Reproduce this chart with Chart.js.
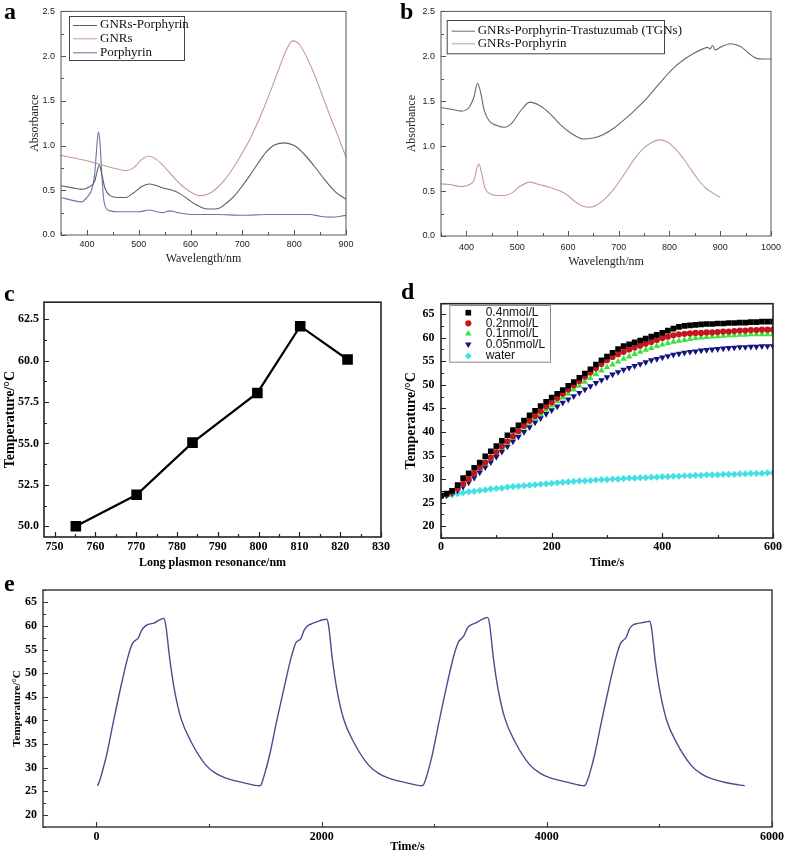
<!DOCTYPE html>
<html>
<head>
<meta charset="utf-8">
<script src="https://cdn.jsdelivr.net/npm/chart.js"></script>
<style>
  body { margin: 0; background: #fff; }
  #fig { position: relative; width: 787px; height: 854px; overflow: hidden; background: #fff; }
  #fig canvas { position: absolute; }
  .tag { position: absolute; font: bold 24px "Liberation Serif", "Times New Roman", serif; line-height: 1; color: #000; }
</style>
</head>
<body>
<div id="fig">
  <canvas id="chartA" width="395" height="290" style="left:0;top:0"></canvas>
  <canvas id="chartB" width="392" height="290" style="left:395px;top:0"></canvas>
  <canvas id="chartC" width="395" height="285" style="left:0;top:290px"></canvas>
  <canvas id="chartD" width="392" height="285" style="left:395px;top:290px"></canvas>
  <canvas id="chartE" width="787" height="279" style="left:0;top:575px"></canvas>
  <div class="tag" style="left:4px;top:-1px">a</div>
  <div class="tag" style="left:400px;top:-1px">b</div>
  <div class="tag" style="left:4px;top:281px">c</div>
  <div class="tag" style="left:401px;top:279px">d</div>
  <div class="tag" style="left:4px;top:571px">e</div>
</div>
<script>
// ---- panel a: UV-vis spectra ----
const aGnrsNm = [350, 375, 400, 425, 450, 475, 490, 505, 520, 535, 550, 565, 580, 595, 610, 620, 635, 650, 665, 680, 695, 710, 725, 740, 755, 770, 785, 797, 810, 825, 840, 855, 870, 885, 900];
const aGnrsAbs = [0.89, 0.86, 0.83, 0.79, 0.75, 0.72, 0.75, 0.84, 0.88, 0.84, 0.76, 0.66, 0.57, 0.50, 0.45, 0.44, 0.46, 0.52, 0.61, 0.73, 0.87, 1.02, 1.20, 1.40, 1.62, 1.85, 2.07, 2.17, 2.13, 1.98, 1.78, 1.55, 1.32, 1.10, 0.87];
const aGnrsPorNm = [350, 370, 390, 405, 415, 420, 424, 428, 435, 445, 460, 475, 490, 505, 520, 535, 550, 565, 580, 595, 610, 625, 640, 655, 670, 685, 700, 715, 730, 745, 760, 780, 800, 820, 840, 860, 880, 900];
const aGnrsPorAbs = [0.55, 0.53, 0.51, 0.54, 0.60, 0.72, 0.78, 0.70, 0.52, 0.44, 0.42, 0.42, 0.47, 0.54, 0.57, 0.55, 0.52, 0.50, 0.46, 0.40, 0.34, 0.30, 0.29, 0.30, 0.36, 0.44, 0.55, 0.67, 0.80, 0.92, 1.00, 1.03, 1.00, 0.90, 0.76, 0.61, 0.48, 0.40];
const aPorNm = [350, 370, 390, 400, 410, 415, 419, 422, 425, 428, 432, 437, 445, 460, 480, 500, 520, 535, 545, 560, 575, 600, 650, 700, 750, 800, 830, 850, 870, 890, 900];
const aPorAbs = [0.42, 0.39, 0.37, 0.42, 0.52, 0.68, 0.98, 1.15, 1.05, 0.75, 0.42, 0.30, 0.27, 0.26, 0.26, 0.26, 0.28, 0.26, 0.25, 0.27, 0.25, 0.23, 0.23, 0.22, 0.23, 0.23, 0.23, 0.21, 0.20, 0.21, 0.22];
const aXTicks = [400, 500, 600, 700, 800, 900];
const aYTicks = [0, 0.5, 1.0, 1.5, 2.0, 2.5];

// ---- panel b ----
const bTgnNm = [350, 370, 390, 405, 415, 422, 428, 435, 445, 460, 475, 490, 505, 525, 545, 565, 585, 605, 630, 650, 670, 690, 710, 730, 750, 770, 790, 810, 830, 850, 865, 875, 880, 885, 890, 900, 920, 940, 955, 970, 985, 1000];
const bTgnAbs = [1.43, 1.41, 1.39, 1.43, 1.55, 1.70, 1.60, 1.40, 1.28, 1.23, 1.21, 1.26, 1.38, 1.49, 1.45, 1.36, 1.24, 1.15, 1.08, 1.09, 1.13, 1.20, 1.29, 1.39, 1.50, 1.63, 1.76, 1.88, 1.97, 2.04, 2.08, 2.10, 2.08, 2.12, 2.07, 2.10, 2.14, 2.11, 2.04, 1.98, 1.97, 1.97];
const bGnrsPorNm = [350, 370, 390, 405, 415, 421, 425, 430, 437, 447, 460, 475, 490, 505, 525, 545, 565, 585, 600, 615, 630, 642, 655, 670, 690, 710, 730, 750, 765, 780, 795, 810, 825, 840, 855, 870, 885, 900];
const bGnrsPorAbs = [0.58, 0.57, 0.55, 0.57, 0.62, 0.76, 0.80, 0.70, 0.53, 0.47, 0.45, 0.45, 0.48, 0.55, 0.60, 0.57, 0.54, 0.50, 0.45, 0.38, 0.33, 0.32, 0.34, 0.40, 0.52, 0.68, 0.85, 0.98, 1.04, 1.07, 1.05, 0.98, 0.88, 0.76, 0.64, 0.54, 0.48, 0.43];
const bXTicks = [400, 500, 600, 700, 800, 900, 1000];
const bYTicks = [0, 0.5, 1.0, 1.5, 2.0, 2.5];

// ---- panel c ----
const cResonance = [755.2, 770.1, 783.8, 799.7, 810.2, 821.8];
const cTemp = [50.0, 51.9, 55.05, 58.05, 62.08, 60.07];
const cXTicks = [750, 760, 770, 780, 790, 800, 810, 820, 830];
const cYTicks = [50.0, 52.5, 55.0, 57.5, 60.0, 62.5];

// ---- panel d: heating curves ----
const dTime = [0, 10, 20, 30, 40, 50, 60, 70, 80, 90, 100, 110, 120, 130, 140, 150, 160, 170, 180, 190, 200, 210, 220, 230, 240, 250, 260, 270, 280, 290, 300, 310, 320, 330, 340, 350, 360, 370, 380, 390, 400, 410, 420, 430, 440, 450, 460, 470, 480, 490, 500, 510, 520, 530, 540, 550, 560, 570, 580, 590, 600];
const d04 = [26.5, 26.9, 27.5, 28.7, 30.2, 31.2, 32.4, 33.5, 34.8, 35.9, 37.0, 38.1, 39.3, 40.4, 41.4, 42.4, 43.5, 44.5, 45.5, 46.4, 47.3, 48.1, 48.9, 49.8, 50.6, 51.5, 52.4, 53.3, 54.3, 55.2, 56.0, 56.8, 57.6, 58.2, 58.6, 59.0, 59.4, 59.8, 60.2, 60.6, 61.0, 61.5, 61.9, 62.3, 62.5, 62.6, 62.7, 62.8, 62.9, 62.9, 63.0, 63.0, 63.1, 63.1, 63.2, 63.2, 63.3, 63.3, 63.4, 63.4, 63.4];
const d02 = [26.4, 26.8, 27.3, 28.0, 29.0, 30.0, 31.2, 32.4, 33.5, 34.6, 35.7, 36.9, 38.0, 39.1, 40.2, 41.3, 42.4, 43.4, 44.4, 45.4, 46.3, 47.2, 48.1, 49.0, 49.9, 50.8, 51.7, 52.6, 53.5, 54.4, 55.2, 55.9, 56.5, 57.0, 57.5, 57.9, 58.3, 58.7, 59.1, 59.5, 59.9, 60.2, 60.5, 60.7, 60.8, 60.9, 61.0, 61.0, 61.1, 61.1, 61.2, 61.3, 61.3, 61.4, 61.5, 61.5, 61.6, 61.6, 61.7, 61.7, 61.7];
const d01 = [26.4, 26.7, 27.1, 27.8, 28.8, 29.9, 31.0, 32.2, 33.3, 34.4, 35.5, 36.6, 37.7, 38.8, 39.9, 40.9, 41.9, 42.9, 43.8, 44.7, 45.6, 46.5, 47.3, 48.1, 49.0, 49.8, 50.6, 51.4, 52.2, 53.0, 53.7, 54.3, 54.9, 55.5, 56.0, 56.5, 57.0, 57.4, 57.8, 58.2, 58.5, 58.8, 59.1, 59.3, 59.5, 59.7, 59.9, 60.0, 60.1, 60.2, 60.3, 60.4, 60.5, 60.5, 60.6, 60.6, 60.7, 60.7, 60.7, 60.7, 60.7];
const d005 = [26.3, 26.6, 27.0, 27.6, 28.4, 29.3, 30.3, 31.4, 32.5, 33.6, 34.7, 35.8, 36.9, 38.0, 39.0, 40.0, 41.0, 42.0, 42.9, 43.8, 44.6, 45.4, 46.2, 46.9, 47.6, 48.3, 49.0, 49.7, 50.4, 51.0, 51.6, 52.2, 52.7, 53.2, 53.6, 54.0, 54.4, 54.8, 55.2, 55.5, 55.8, 56.1, 56.4, 56.6, 56.8, 57.0, 57.1, 57.3, 57.4, 57.5, 57.6, 57.7, 57.8, 57.9, 58.0, 58.0, 58.1, 58.1, 58.2, 58.2, 58.2];
const dWater = [26.3, 26.5, 26.7, 26.9, 27.1, 27.3, 27.4, 27.6, 27.7, 27.9, 28.0, 28.1, 28.3, 28.4, 28.5, 28.6, 28.7, 28.8, 28.9, 29.0, 29.1, 29.2, 29.3, 29.4, 29.5, 29.6, 29.6, 29.7, 29.8, 29.9, 29.9, 30.0, 30.0, 30.1, 30.2, 30.2, 30.3, 30.3, 30.4, 30.4, 30.5, 30.5, 30.6, 30.6, 30.7, 30.7, 30.8, 30.8, 30.9, 30.9, 30.9, 31.0, 31.0, 31.0, 31.1, 31.1, 31.2, 31.2, 31.2, 31.3, 31.3];
const dLabels = ['0.4nmol/L', '0.2nmol/L', '0.1nmol/L', '0.05nmol/L', 'water'];
const dXTicks = [0, 200, 400, 600];
const dYTicks = [20, 25, 30, 35, 40, 45, 50, 55, 60, 65];

// ---- panel e: four on/off cycles ----
const eTime = [
  10, 30, 45, 90, 150, 220, 280, 320, 350, 370, 400, 430, 470, 510, 560, 598, 615, 650, 690, 750, 840, 970, 1060, 1150, 1330, 1445,
  1460, 1480, 1495, 1540, 1600, 1670, 1730, 1770, 1795, 1815, 1845, 1875, 1915, 1960, 2010, 2045, 2062, 2095, 2135, 2195, 2285, 2415, 2505, 2595, 2775, 2890,
  2905, 2925, 2940, 2985, 3045, 3115, 3175, 3215, 3245, 3265, 3295, 3325, 3365, 3410, 3455, 3475, 3492, 3525, 3565, 3625, 3715, 3845, 3935, 4025, 4205, 4330,
  4345, 4365, 4380, 4425, 4485, 4555, 4615, 4655, 4685, 4705, 4735, 4765, 4805, 4850, 4895, 4912, 4930, 4962, 5002, 5062, 5152, 5282, 5372, 5462, 5642, 5757
];
const eTemp = [
  26.2, 27.4, 28.6, 32.7, 39.7, 47.5, 53.5, 56.3, 57.0, 57.4, 59.0, 59.9, 60.4, 60.6, 61.3, 61.6, 60.2, 53.2, 46.8, 40.5, 35.5, 30.6, 28.8, 27.8, 26.7, 26.2,
  26.3, 27.6, 28.8, 32.9, 39.8, 47.3, 53.4, 56.4, 56.9, 57.3, 59.1, 60.0, 60.5, 60.9, 61.3, 61.4, 60.0, 53.0, 46.6, 40.3, 35.4, 30.6, 28.8, 27.8, 26.7, 26.2,
  26.4, 27.6, 28.8, 33.0, 40.0, 47.8, 53.8, 56.6, 57.4, 58.0, 59.6, 60.2, 60.6, 61.2, 61.7, 61.8, 60.3, 53.3, 46.9, 40.6, 35.6, 30.7, 28.9, 27.9, 26.8, 26.2,
  26.4, 27.6, 28.7, 32.8, 39.7, 47.4, 53.4, 56.3, 57.1, 57.6, 59.4, 60.2, 60.5, 60.7, 60.9, 61.0, 59.6, 52.8, 46.5, 40.2, 35.3, 30.5, 28.7, 27.7, 26.6, 26.2
];
const eXTicks = [0, 2000, 4000, 6000];
const eYTicks = [20, 25, 30, 35, 40, 45, 50, 55, 60, 65];

Chart.defaults.animation = false;
Chart.defaults.responsive = false;
Chart.defaults.plugins.legend.display = false;
Chart.defaults.plugins.tooltip.enabled = false;

const SERIF = '"Liberation Serif", "Times New Roman", serif';
const SANS = '"Liberation Sans", Arial, sans-serif';

function pts(xs, ys) {
  return xs.map((x, i) => ({ x: x, y: ys[i] }));
}

// box around the plot area plus inward major/minor tick marks
const frameTicks = {
  id: 'frameTicks',
  afterDatasetsDraw(chart, args, o) {
    const { ctx, chartArea: a } = chart;
    const sx = chart.scales.x, sy = chart.scales.y;
    ctx.save();
    ctx.strokeStyle = o.color;
    ctx.lineWidth = o.width;
    ctx.strokeRect(a.left, a.top, a.right - a.left, a.bottom - a.top);
    ctx.lineWidth = o.tickWidth;
    ctx.beginPath();
    const isMajor = (v, step) => Math.abs(v / step - Math.round(v / step)) < 1e-6;
    for (let k = Math.ceil(sx.min / o.xMinor - 1e-9); k * o.xMinor <= sx.max + 1e-9; k++) {
      const v = k * o.xMinor;
      const px = Math.round(sx.getPixelForValue(v)) + 0.5;
      const len = isMajor(v, o.xMajor) ? o.major : o.minor;
      ctx.moveTo(px, a.bottom);
      ctx.lineTo(px, a.bottom - len);
    }
    for (let k = Math.ceil(sy.min / o.yMinor - 1e-9); k * o.yMinor <= sy.max + 1e-9; k++) {
      const v = k * o.yMinor;
      const py = Math.round(sy.getPixelForValue(v)) + 0.5;
      const len = isMajor(v, o.yMajor) ? o.major : o.minor;
      ctx.moveTo(a.left, py);
      ctx.lineTo(a.left + len, py);
    }
    ctx.stroke();
    ctx.restore();
  }
};

// framed legend drawn inside the plot
const boxLegend = {
  id: 'boxLegend',
  afterDraw(chart, args, o) {
    if (!o.rows) return;
    const ctx = chart.ctx;
    ctx.save();
    ctx.strokeStyle = o.border;
    ctx.lineWidth = 1;
    ctx.strokeRect(o.x + 0.5, o.y + 0.5, o.w, o.h);
    ctx.font = o.font;
    ctx.textBaseline = 'middle';
    chart.data.datasets.forEach((ds, i) => {
      const ry = o.rows[i];
      if (o.kind === 'line') {
        ctx.strokeStyle = ds.borderColor;
        ctx.lineWidth = 1;
        ctx.beginPath();
        ctx.moveTo(o.lx1, ry + 0.5);
        ctx.lineTo(o.lx2, ry + 0.5);
        ctx.stroke();
      } else {
        ctx.fillStyle = ds.backgroundColor;
        ctx.strokeStyle = ds.borderColor;
        Chart.helpers.drawPoint(ctx, { pointStyle: ds.pointStyle, radius: ds.pointRadius, rotation: ds.pointRotation || 0, borderWidth: 0 }, o.mx, ry);
      }
      ctx.fillStyle = '#111';
      ctx.fillText(ds.label, o.tx, ry);
    });
    ctx.restore();
  }
};

Chart.register(frameTicks, boxLegend);

// panel geometry in page pixels: canvas box and the plot rectangle
function makeOptions(p) {
  const L = p.box[0], T = p.box[1], W = p.box[2], H = p.box[3];
  const [pl, pt, pr, pb] = p.plot;
  const yLH = p.yTitleFont.size * 1.2;
  const xLH = p.xTitleFont.size * 1.2;
  return {
    layout: { padding: { left: 0, top: pt - T, right: L + W - pr, bottom: 0 } },
    scales: {
      x: {
        type: 'linear', min: p.xMin, max: p.xMax,
        grid: { display: false, drawTicks: false }, border: { display: false },
        ticks: { autoSkip: false, maxRotation: 0, padding: p.xPad, color: p.tickColor, font: p.tickFont, callback: p.xFmt },
        afterBuildTicks: s => { s.ticks = p.xTicks.map(v => ({ value: v })); },
        title: { display: true, text: p.xTitle, color: p.titleColor, font: p.xTitleFont, padding: { top: 0, bottom: (T + H) - p.xTitleY - xLH / 2 } },
        afterFit: s => { s.height = (T + H) - pb; }
      },
      y: {
        type: 'linear', min: p.yMin, max: p.yMax,
        grid: { display: false, drawTicks: false }, border: { display: false },
        ticks: { autoSkip: false, padding: p.yPad, color: p.tickColor, font: p.tickFont, callback: p.yFmt },
        afterBuildTicks: s => { s.ticks = p.yTicks.map(v => ({ value: v })); },
        title: { display: true, text: p.yTitle, color: p.titleColor, font: p.yTitleFont, padding: { top: p.yTitleX - L - yLH / 2, bottom: 0 } },
        afterFit: s => { s.width = pl - L; }
      }
    },
    plugins: {
      frameTicks: p.frame,
      boxLegend: p.legend || {}
    },
    elements: { point: { radius: 0 } }
  };
}

const fix1 = v => Number(v).toFixed(1);
const plain = v => String(v);

function spectrumLine(label, xs, ys, color) {
  return { label: label, data: pts(xs, ys), borderColor: color, backgroundColor: color, borderWidth: 1.1, pointRadius: 0, cubicInterpolationMode: 'monotone' };
}

// a
new Chart(document.getElementById('chartA'), {
  type: 'line',
  data: {
    datasets: [
      spectrumLine('GNRs-Porphyrin', aGnrsPorNm, aGnrsPorAbs, '#5d606c'),
      spectrumLine('GNRs', aGnrsNm, aGnrsAbs, '#c59a9c'),
      spectrumLine('Porphyrin', aPorNm, aPorAbs, '#7373a3')
    ]
  },
  options: makeOptions({
    box: [0, 0, 395, 290], plot: [61, 7, 346, 235],
    xMin: 350, xMax: 900, yMin: 0, yMax: 2.5, xTicks: aXTicks, yTicks: aYTicks,
    xPad: 4, yPad: 6, tickColor: '#222', tickFont: { family: SANS, size: 9 },
    xFmt: plain, yFmt: fix1, titleColor: '#222',
    xTitle: 'Wavelength/nm', yTitle: 'Absorbance',
    xTitleFont: { family: SERIF, size: 12 }, yTitleFont: { family: SERIF, size: 12 },
    xTitleY: 259.3, yTitleX: 35,
    frame: { color: '#555', width: 1, tickWidth: 1, major: 5, minor: 3, xMajor: 100, xMinor: 50, yMajor: 0.5, yMinor: 0.25 },
    legend: { kind: 'line', x: 69, y: 16, w: 115, h: 44, rows: [25, 38.3, 52.3], lx1: 73, lx2: 97, tx: 100, font: '13px ' + SERIF, border: '#444' }
  })
});

// b
new Chart(document.getElementById('chartB'), {
  type: 'line',
  data: {
    datasets: [
      spectrumLine('GNRs-Porphyrin-Trastuzumab (TGNs)', bTgnNm, bTgnAbs, '#67686f'),
      spectrumLine('GNRs-Porphyrin', bGnrsPorNm, bGnrsPorAbs, '#c89a9a')
    ]
  },
  options: makeOptions({
    box: [395, 0, 392, 290], plot: [441, 9, 777, 236],
    xMin: 350, xMax: 1000, yMin: 0, yMax: 2.5, xTicks: bXTicks, yTicks: bYTicks,
    xPad: 6, yPad: 6, tickColor: '#222', tickFont: { family: SANS, size: 9 },
    xFmt: plain, yFmt: fix1, titleColor: '#222',
    xTitle: 'Wavelength/nm', yTitle: 'Absorbance',
    xTitleFont: { family: SERIF, size: 12 }, yTitleFont: { family: SERIF, size: 12 },
    xTitleY: 261.7, yTitleX: 411.7,
    frame: { color: '#555', width: 1, tickWidth: 1, major: 5, minor: 3, xMajor: 100, xMinor: 50, yMajor: 0.5, yMinor: 0.25 },
    legend: { kind: 'line', x: 51.7, y: 20, w: 217.3, h: 33.3, rows: [30.7, 43.3], lx1: 56.7, lx2: 80, tx: 82.7, font: '13px ' + SERIF, border: '#444' }
  })
});

// c
new Chart(document.getElementById('chartC'), {
  type: 'line',
  data: {
    datasets: [{
      label: 'Temperature', data: pts(cResonance, cTemp),
      borderColor: '#000', backgroundColor: '#000', borderWidth: 2.2,
      pointStyle: 'rect', pointRadius: 7.5, pointBackgroundColor: '#000', pointBorderWidth: 0
    }]
  },
  options: makeOptions({
    box: [0, 290, 395, 285], plot: [44, 302, 381, 537],
    xMin: 747.4, xMax: 830, yMin: 49.35, yMax: 63.53, xTicks: cXTicks, yTicks: cYTicks,
    xPad: 2.5, yPad: 5, tickColor: '#000', tickFont: { family: SERIF, size: 12, weight: 'bold' },
    xFmt: plain, yFmt: fix1, titleColor: '#000',
    xTitle: 'Long plasmon resonance/nm', yTitle: 'Temperature/\u00B0C',
    xTitleFont: { family: SERIF, size: 12, weight: 'bold' }, yTitleFont: { family: SERIF, size: 14, weight: 'bold' },
    xTitleY: 563, yTitleX: 10,
    frame: { color: '#222', width: 1.6, tickWidth: 1.2, major: 5, minor: 3, xMajor: 10, xMinor: 5, yMajor: 2.5, yMinor: 1.25 }
  })
});

// d
function markerSet(label, ys, style, color, radius, rotation) {
  return { label: label, data: pts(dTime, ys), showLine: false, pointStyle: style, pointRadius: radius, pointRotation: rotation,
    backgroundColor: color, borderColor: color, pointBorderWidth: 0 };
}
new Chart(document.getElementById('chartD'), {
  type: 'line',
  data: {
    datasets: [
      markerSet(dLabels[0], d04, 'rect', '#000000', 4, 0),
      markerSet(dLabels[1], d02, 'circle', '#c4161c', 3.1, 0),
      markerSet(dLabels[2], d01, 'triangle', '#3ee23e', 3.8, 0),
      markerSet(dLabels[3], d005, 'triangle', '#141480', 3.8, 180),
      markerSet(dLabels[4], dWater, 'rectRot', '#45dfe6', 3.6, 0)
    ]
  },
  options: makeOptions({
    box: [395, 290, 392, 285], plot: [441, 303, 773, 538],
    xMin: 0, xMax: 600, yMin: 17.5, yMax: 67.2, xTicks: dXTicks, yTicks: dYTicks,
    xPad: 1.5, yPad: 6.5, tickColor: '#000', tickFont: { family: SERIF, size: 12, weight: 'bold' },
    xFmt: plain, yFmt: plain, titleColor: '#000',
    xTitle: 'Time/s', yTitle: 'Temperature/\u00B0C',
    xTitleFont: { family: SERIF, size: 12, weight: 'bold' }, yTitleFont: { family: SERIF, size: 14, weight: 'bold' },
    xTitleY: 563, yTitleX: 411.7,
    frame: { color: '#222', width: 1.6, tickWidth: 1.2, major: 5, minor: 3, xMajor: 200, xMinor: 100, yMajor: 5, yMinor: 2.5 },
    legend: { kind: 'marker', x: 54.3, y: 15, w: 100.7, h: 56.7, rows: [22.7, 33.3, 43.7, 54.3, 66], mx: 73.3, tx: 90.7, font: '12px ' + SANS, border: '#8a8a8a' }
  })
});

// e
new Chart(document.getElementById('chartE'), {
  type: 'line',
  data: {
    datasets: [{
      label: 'Temperature', data: pts(eTime, eTemp),
      borderColor: '#4b4b8c', backgroundColor: '#4b4b8c', borderWidth: 1.4, pointRadius: 0,
      cubicInterpolationMode: 'monotone'
    }]
  },
  options: makeOptions({
    box: [0, 575, 787, 279], plot: [43, 590, 772, 827],
    xMin: -475, xMax: 6000, yMin: 17.46, yMax: 67.6, xTicks: eXTicks, yTicks: eYTicks,
    xPad: 2.5, yPad: 6, tickColor: '#000', tickFont: { family: SERIF, size: 12, weight: 'bold' },
    xFmt: plain, yFmt: plain, titleColor: '#000',
    xTitle: 'Time/s', yTitle: 'Temperature/\u00B0C',
    xTitleFont: { family: SERIF, size: 12, weight: 'bold' }, yTitleFont: { family: SERIF, size: 11, weight: 'bold' },
    xTitleY: 846.7, yTitleX: 16.7,
    frame: { color: '#333', width: 1.4, tickWidth: 1.1, major: 5, minor: 3, xMajor: 2000, xMinor: 1000, yMajor: 5, yMinor: 2.5 }
  })
});
</script>
</body>
</html>
